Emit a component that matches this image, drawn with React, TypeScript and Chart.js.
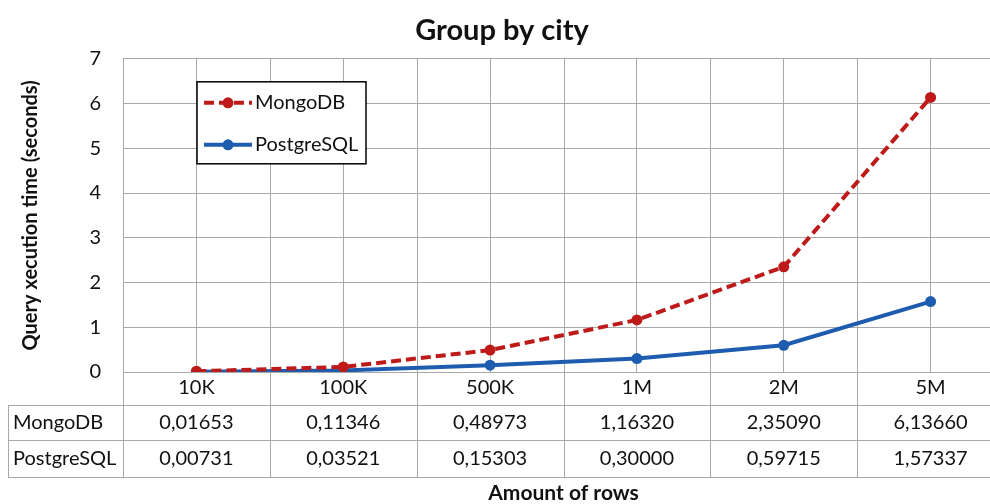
import React, { useEffect, useRef } from 'react';
import { Chart, registerables } from 'chart.js';

Chart.register(...registerables);

const categories = ['10K', '100K', '500K', '1M', '2M', '5M'];
const mongoValues = [0.01653, 0.11346, 0.48973, 1.1632, 2.3509, 6.1366];
const postgresValues = [0.00731, 0.03521, 0.15303, 0.3, 0.59715, 1.57337];
const seriesNames = ['MongoDB', 'PostgreSQL'];
const yMin = 0;
const yMax = 7;
const yStep = 1;
const chartTitle = 'Group by city';
const yTitle = 'Query xecution time (seconds)';
const xTitle = 'Amount of rows';

const RED = '#BE1A1A';
const BLUE = '#1E5CAF';
const GRID = '#A8A8A8';
const TEXT = '#111111';
const FONT = 'Lato, "Open Sans", sans-serif';
const FS = 20;

const fmt = (v: number) => v.toFixed(5).replace('.', ',');

const tablePlugin = {
  id: 'dataTable',
  beforeDatasetsDraw(chart: any) {
    const { ctx, chartArea } = chart;
    const x = chart.scales.x;
    const n = categories.length;
    const bottom = chartArea.bottom;
    const r1 = bottom + 33;
    const r2 = bottom + 68;
    const r3 = bottom + 105;
    const tableLeft = 8;
    ctx.save();
    ctx.strokeStyle = GRID;
    ctx.lineWidth = 1;
    ctx.beginPath();
    for (let i = 0; i <= n; i++) {
      const px = Math.round(x.getPixelForValue(i - 0.5)) + 0.5;
      ctx.moveTo(px, chartArea.top);
      ctx.lineTo(px, r3);
    }
    ctx.moveTo(tableLeft + 0.5, r1);
    ctx.lineTo(tableLeft + 0.5, r3);
    [r1, r2, r3].forEach((ry) => {
      ctx.moveTo(tableLeft, Math.round(ry) + 0.5);
      ctx.lineTo(chart.width, Math.round(ry) + 0.5);
    });
    ctx.stroke();

    ctx.fillStyle = TEXT;
    ctx.font = `${FS}px ${FONT}`;
    ctx.textBaseline = 'middle';
    const rows = [
      { name: seriesNames[0], values: mongoValues, y: (r1 + r2) / 2 },
      { name: seriesNames[1], values: postgresValues, y: (r2 + r3) / 2 },
    ];
    rows.forEach((row) => {
      ctx.textAlign = 'left';
      ctx.fillText(row.name, tableLeft + 5, row.y);
      ctx.textAlign = 'center';
      row.values.forEach((v, i) => {
        ctx.fillText(fmt(v), x.getPixelForValue(i), row.y);
      });
    });
    ctx.restore();
  },
  afterDatasetsDraw(chart: any) {
    const { ctx, chartArea } = chart;
    const lx = chartArea.left + 74;
    const ly = chartArea.top + 23;
    const w = 169;
    const h = 82;
    ctx.save();
    ctx.fillStyle = '#ffffff';
    ctx.fillRect(lx, ly, w, h);
    ctx.strokeStyle = '#000000';
    ctx.lineWidth = 1.5;
    ctx.strokeRect(lx, ly, w, h);
    const items = chart.data.datasets.map((ds: any, i: number) => ({
      label: ds.label,
      color: ds.borderColor,
      dash: ds.borderDash || [],
      y: ly + (i === 0 ? 21 : 63),
    }));
    items.forEach((it: any) => {
      ctx.strokeStyle = it.color;
      ctx.lineWidth = 4;
      ctx.setLineDash(it.dash);
      ctx.beginPath();
      ctx.moveTo(lx + 7, it.y);
      ctx.lineTo(lx + 55, it.y);
      ctx.stroke();
      ctx.setLineDash([]);
      ctx.fillStyle = it.color;
      ctx.beginPath();
      ctx.arc(lx + 31, it.y, 5.5, 0, Math.PI * 2);
      ctx.fill();
      ctx.fillStyle = TEXT;
      ctx.font = `${FS}px ${FONT}`;
      ctx.textAlign = 'left';
      ctx.textBaseline = 'middle';
      ctx.fillText(it.label, lx + 58, it.y);
    });
    ctx.restore();
  },
};

export default function App() {
  const ref = useRef<HTMLCanvasElement | null>(null);

  useEffect(() => {
    document.body.style.margin = '0';
    document.body.style.overflow = 'hidden';
    const canvas = ref.current;
    if (!canvas) return;
    const chart = new Chart(canvas, {
      type: 'line',
      data: {
        labels: categories,
        datasets: [
          {
            label: seriesNames[0],
            data: mongoValues,
            borderColor: RED,
            backgroundColor: RED,
            borderWidth: 4,
            borderDash: [10, 5],
            pointRadius: 5.5,
            pointHoverRadius: 5.5,
            pointBorderWidth: 0,
            tension: 0,
          },
          {
            label: seriesNames[1],
            data: postgresValues,
            borderColor: BLUE,
            backgroundColor: BLUE,
            borderWidth: 4,
            pointRadius: 5.5,
            pointHoverRadius: 5.5,
            pointBorderWidth: 0,
            tension: 0,
          },
        ],
      },
      options: {
        responsive: false,
        animation: false,
        devicePixelRatio: 1,
        layout: { padding: { left: 0, right: 6, top: 0, bottom: 0 } },
        plugins: {
          legend: { display: false },
          tooltip: { enabled: false },
          title: {
            display: true,
            text: chartTitle,
            color: TEXT,
            font: { family: FONT, size: 29, weight: 'bold' },
            padding: { top: 13, bottom: 11 },
          },
        },
        scales: {
          x: {
            type: 'category',
            offset: true,
            grid: { color: GRID, offset: false, drawTicks: false },
            border: { color: GRID },
            ticks: { color: TEXT, font: { family: FONT, size: FS }, padding: 4, maxRotation: 0 },
            title: {
              display: true,
              text: xTitle,
              color: TEXT,
              font: { family: FONT, size: 21, weight: 'bold', lineHeight: 1 },
              padding: { top: 0, bottom: 0 },
            },
            afterFit(scale: any) {
              scale.height = 132;
            },
          },
          y: {
            min: yMin,
            max: yMax,
            grid: { color: GRID, drawTicks: false },
            border: { color: GRID },
            ticks: { stepSize: yStep, color: TEXT, font: { family: FONT, size: FS }, padding: 22 },
            title: {
              display: true,
              text: yTitle,
              color: TEXT,
              font: { family: FONT, size: 20, weight: 'bold', lineHeight: 1 },
              padding: { top: 21, bottom: 0 },
            },
            afterFit(scale: any) {
              scale.width = 123;
            },
          },
        },
      },
      plugins: [tablePlugin],
    });
    return () => chart.destroy();
  }, []);

  return (
    <div style={{ width: 990, height: 504, overflow: 'hidden', background: '#fff' }}>
      <canvas ref={ref} width={1010} height={504} style={{ width: 1010, height: 504, display: 'block' }} />
    </div>
  );
}
